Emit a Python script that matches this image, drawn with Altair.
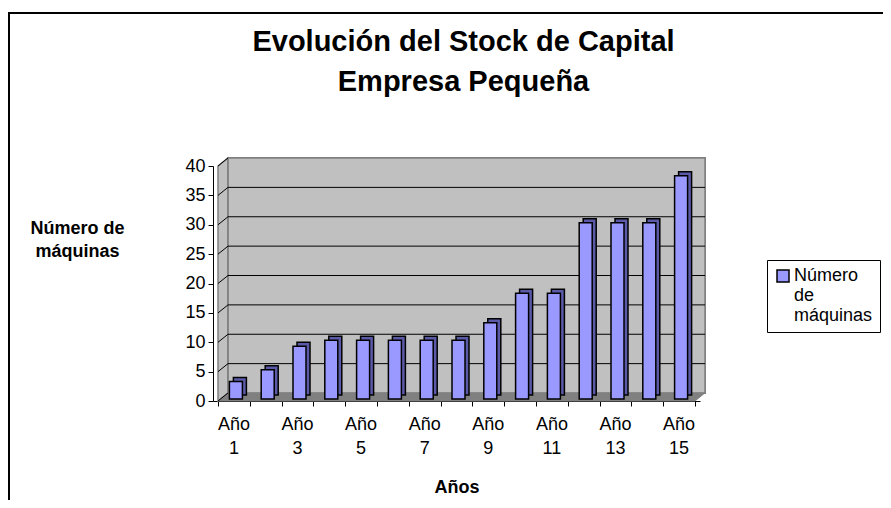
import altair as alt
import pandas as pd

# ---------------- data ----------------
years = [f"Año {i}" for i in range(1, 16)]
maquinas = [3, 5, 9, 10, 10, 10, 10, 10, 13, 18, 18, 30, 30, 30, 38]
y_ticks = [0, 5, 10, 15, 20, 25, 30, 35, 40]
series_name = "Número de máquinas"
title_lines = ["Evolución del Stock de Capital", "Empresa Pequeña"]
y_title = ["Número de", "máquinas"]
x_title = "Años"

# ---------------- layout ----------------
W, H = 487, 235
PAD_L, PAD_T = 205, 158
TOTAL_W, TOTAL_H = 875, 492
N = len(years)
Y_MAX = 40
DX, DY = 10, 8      # depth of the back wall (px)
BX, BY = 2, 2       # bar front face depth offset (px)
TX, TY = 4, 4       # bar thickness (px)
BAR_W = 13
FONT = "Liberation Sans"

px_x = W / N
px_y = H / Y_MAX
dxu = DX / px_x
dyu = DY / px_y

bars = pd.DataFrame({
    "year": years,
    "value": maquinas,
    "idx": list(range(1, N + 1)),
    "pos": [i + 0.5 for i in range(N)],
    "serie": series_name,
})
bars["label"] = bars["year"].str.replace(" ", "\n")

grid = pd.DataFrame({"v": [t for t in y_ticks if 0 < t < Y_MAX]})
side_ticks = pd.DataFrame({"v": y_ticks})
side_wall = pd.DataFrame({"x": [0, dxu], "y": [Y_MAX, Y_MAX + dyu], "y2": [0, dyu]})
floor = pd.DataFrame({"y": [0, dyu], "x": [0, dxu], "x2": [N, N + dxu]})

xs = alt.Scale(domain=[0, N], nice=False, zero=False)
ys = alt.Scale(domain=[0, Y_MAX], nice=False)

x_axis = alt.Axis(values=list(range(N + 1)), labels=False, grid=False,
                  domainColor="black", tickColor="black", tickSize=5,
                  title=x_title, titleFont=FONT, titleFontSize=18,
                  titleFontWeight="bold", titleColor="black",
                  titleBaseline="alphabetic", titleY=91)
y_axis = alt.Axis(values=y_ticks, tickCount=len(y_ticks), grid=False,
                  domainColor="black",
                  tickColor="black", tickSize=5, labelFont=FONT,
                  labelFontSize=18, labelColor="black", labelPadding=3,
                  labelOverlap=False,
                  title=y_title, titleAngle=0, titleFont=FONT,
                  titleFontSize=18, titleFontWeight="bold", titleColor="black",
                  titleAlign="center", titleBaseline="middle",
                  titleX=-136, titleY=62, titleLineHeight=23)


def X(**kw):
    return alt.X(scale=xs, axis=x_axis, **kw)


def Y(**kw):
    return alt.Y(scale=ys, axis=y_axis, **kw)


wall = alt.Chart(bars).mark_rect(
    fill="#c0c0c0", stroke="#808080", strokeWidth=1.5,
    xOffset=DX, x2Offset=DX, yOffset=-DY, y2Offset=-DY
).encode(
    x=X(datum=0, type="quantitative"),
    x2=alt.datum(N),
    y=Y(datum=0, type="quantitative"),
    y2=alt.datum(Y_MAX),
)

side = alt.Chart(side_wall).mark_area(
    fill="#c0c0c0", stroke="#808080", strokeWidth=1.5
).encode(x=X(field="x", type="quantitative"),
         y=Y(field="y", type="quantitative"), y2="y2:Q")

floor_l = alt.Chart(floor).mark_area(
    orient="horizontal", fill="#808080", stroke="#808080", strokeWidth=1
).encode(y=Y(field="y", type="quantitative"),
         x=X(field="x", type="quantitative"), x2="x2:Q")

grid_l = alt.Chart(grid).mark_rule(
    color="black", strokeWidth=1, xOffset=DX, x2Offset=DX, yOffset=-DY
).encode(x=X(datum=0, type="quantitative"), x2=alt.datum(N),
         y=Y(field="v", type="quantitative"))

diag = alt.Chart(side_ticks).mark_rule(
    color="black", strokeWidth=1, x2Offset=DX, y2Offset=-DY
).encode(x=X(datum=0, type="quantitative"), x2=alt.datum(0),
         y=Y(field="v", type="quantitative"), y2="v:Q")

bar_back = alt.Chart(bars).mark_bar(
    width=BAR_W, fill="#5a5aa8", stroke="black", strokeWidth=1.5,
    xOffset=BX + TX, yOffset=-(BY + TY), y2Offset=-(BY + TY)
).encode(x=X(field="pos", type="quantitative"),
         y=Y(field="value", type="quantitative"), y2=alt.datum(0))

bar_front = alt.Chart(bars).mark_bar(
    width=BAR_W, stroke="black", strokeWidth=1.5,
    xOffset=BX, yOffset=-BY, y2Offset=-BY
).encode(
    x=X(field="pos", type="quantitative"),
    y=Y(field="value", type="quantitative"), y2=alt.datum(0),
    color=alt.Color("serie:N", scale=alt.Scale(range=["#9999ff"]),
                    legend=alt.Legend(
                        title=None, orient="none", legendX=554, legendY=94,
                        symbolType="square", symbolSize=144,
                        symbolStrokeColor="black", symbolStrokeWidth=1.5,
                        labelFont=FONT, labelFontSize=18, labelColor="black",
                        labelExpr="split(datum.label, ' ')",
                        labelLimit=300, labelOffset=2,
                        strokeColor="black", fillColor="white", padding=7)),
)

labels = alt.Chart(bars).transform_filter("datum.idx % 2 == 1").mark_text(
    font=FONT, fontSize=18, color="black", baseline="top", lineBreak="\n",
    lineHeight=24, dy=15
).encode(x=X(field="pos", type="quantitative"),
         y=Y(datum=0, type="quantitative"), text="label:N")

frame = alt.Chart(bars).mark_rect(
    fill=None, stroke="black", strokeWidth=1.5
).encode(x=alt.value(-PAD_L + 0.5), x2=alt.value(TOTAL_W),
         y=alt.value(-PAD_T + 5), y2=alt.value(TOTAL_H))

chart = alt.layer(
    frame, wall, side, floor_l, grid_l, diag, bar_back, bar_front, labels
).properties(
    width=W, height=H,
    padding={"left": PAD_L, "top": PAD_T,
             "right": TOTAL_W - PAD_L - W, "bottom": TOTAL_H - PAD_T - H},
    autosize=alt.AutoSizeParams(type="none"),
    title=alt.TitleParams(text=title_lines, font=FONT, fontSize=29,
                          fontWeight="bold", color="black", anchor="middle",
                          lineHeight=40, dx=7, dy=95, offset=10),
).configure_view(stroke=None)

chart.save("out.html", embed_options={"renderer": "svg", "actions": False})
